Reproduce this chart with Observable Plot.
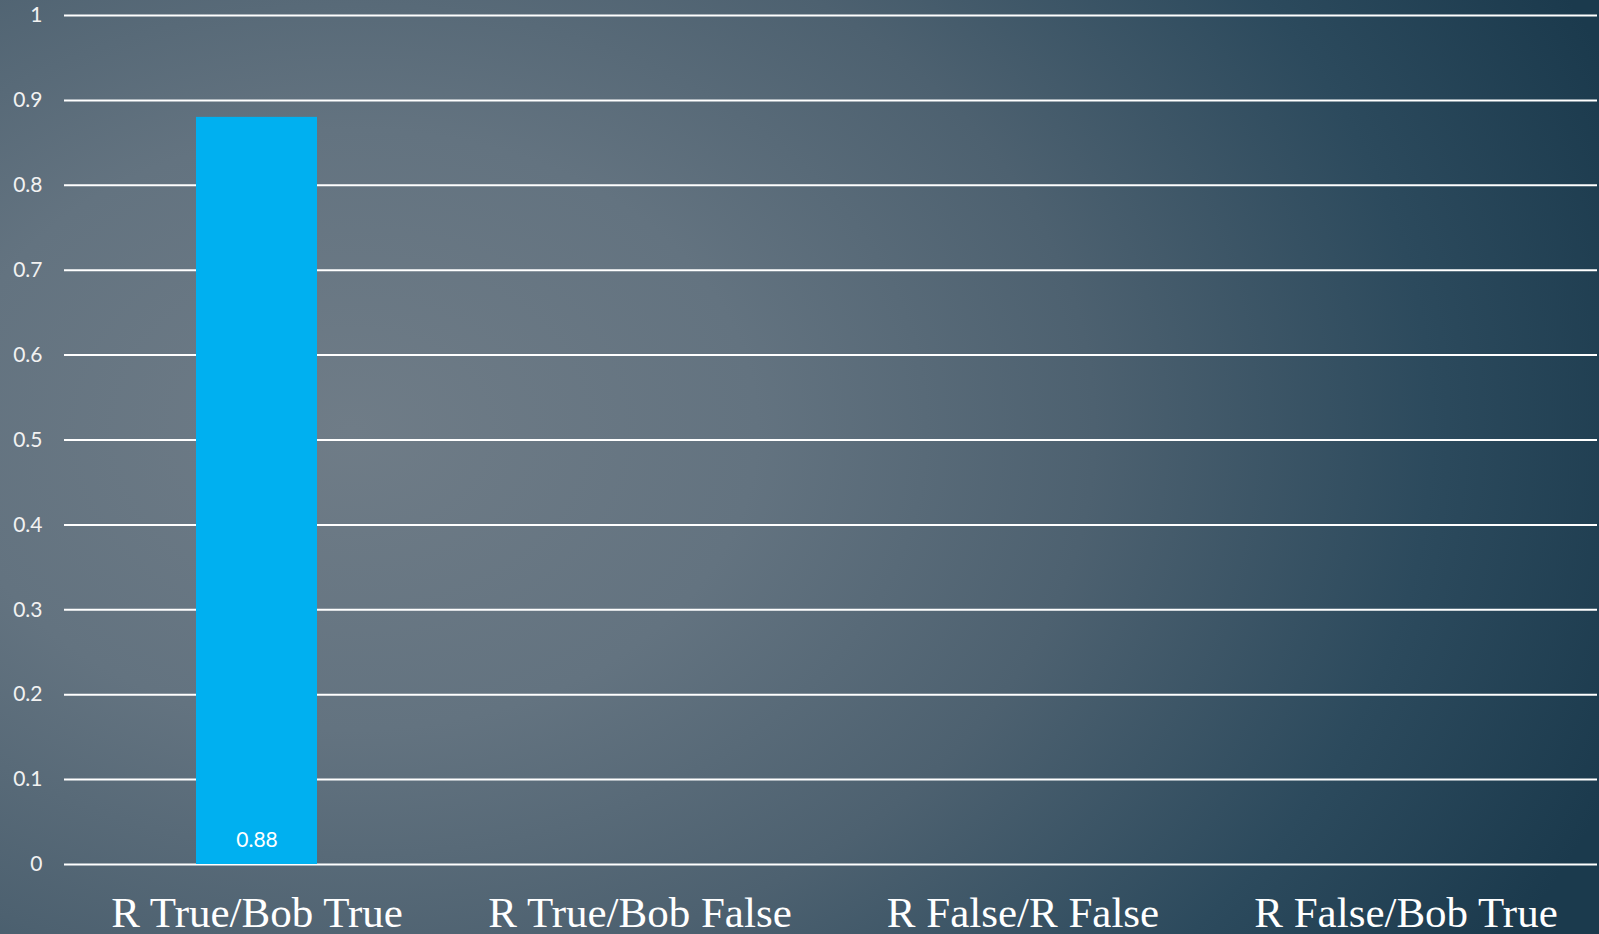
<!DOCTYPE html>
<html>
<head>
<meta charset="utf-8">
<script src="https://cdn.jsdelivr.net/npm/d3@7"></script>
<script src="https://cdn.jsdelivr.net/npm/@observablehq/plot@0.6"></script>
<style>
  html, body { margin: 0; padding: 0; width: 1599px; height: 934px; overflow: hidden; }
  body {
    background:
      radial-gradient(ellipse 1350px 1000px at 22% 46%, #6f7c87 0%, #637380 30%, #4d6170 55%, #2c4a5d 80%, #1b3a4d 100%);
  }
  #chart svg { display: block; background: transparent; }
</style>
</head>
<body>
<div id="chart"></div>
<script>
const categories = ["R True/Bob True", "R True/Bob False", "R False/R False", "R False/Bob True"];
const values = [0.88, null, null, null];
const yTicks = [0, 0.1, 0.2, 0.3, 0.4, 0.5, 0.6, 0.7, 0.8, 0.9, 1];

const data = categories.map((c, i) => ({category: c, value: values[i]}));
const present = data.filter(d => d.value != null);

const chart = Plot.plot({
  width: 1599,
  height: 934,
  marginLeft: 64,
  marginRight: 2,
  marginTop: 15,
  marginBottom: 70,
  style: {background: "transparent", overflow: "visible"},
  x: {domain: categories, paddingInner: 0.685, paddingOuter: 0.3425, label: null},
  y: {domain: [0, 1], label: null},
  marks: [
    Plot.ruleY(yTicks, {stroke: "white", strokeWidth: 2}),
    Plot.barY(present, {x: "category", y: "value", fill: "#00b0f0"}),
    Plot.text(present, {
      x: "category", y: 0, text: d => d3.format(".2f")(d.value),
      fill: "white", fontSize: 21, fontFamily: "Lato", lineAnchor: "middle", dy: -24
    }),
    Plot.axisY({
      ticks: yTicks, tickSize: 0, tickPadding: 22, label: null,
      fontSize: 21, fontFamily: "Lato", color: "#f2f2f2", tickFormat: d => String(d)
    }),
    Plot.axisX({
      tickSize: 0, tickPadding: 32, label: null,
      fontSize: 43, fontFamily: "Liberation Serif", color: "#ffffff"
    })
  ]
});
document.getElementById("chart").appendChild(chart);
</script>
</body>
</html>
